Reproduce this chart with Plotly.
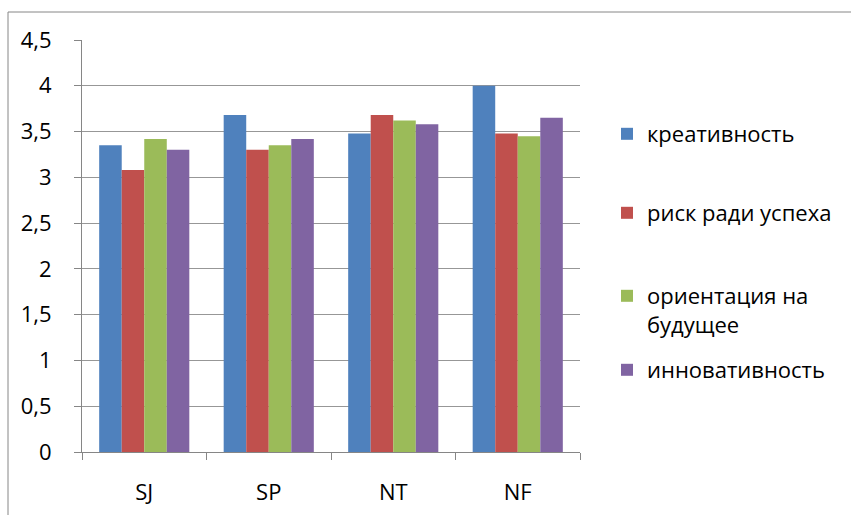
import plotly.graph_objects as go

categories = ["SJ", "SP", "NT", "NF"]
series_names = ["креативность", "риск ради успеха", "ориентация на<br>будущее", "инновативность"]
creativity = [3.35, 3.68, 3.48, 4.0]
risk = [3.08, 3.30, 3.68, 3.48]
future = [3.42, 3.35, 3.62, 3.45]
innovation = [3.30, 3.42, 3.58, 3.65]
y_ticks = [0, 0.5, 1, 1.5, 2, 2.5, 3, 3.5, 4, 4.5]

colors = ["#4F81BD", "#C0504D", "#9BBB59", "#8064A2"]
values = [creativity, risk, future, innovation]

W, H = 851, 515
# plot area in reference page pixels
PX0, PX1, PY0, PY1 = 82, 580, 40, 452
L, R, T, B = PX0, W - PX1, PY0, H - PY1
pw = W - L - R
ph = H - T - B

def px_x(p):
    return (p - L) / pw

def px_y(p):
    return (H - B - p) / ph

legend_names = ["legend", "legend2", "legend3", "legend4"]
legend_y = [134, 213, 275, 370]
legend_anchor = ["middle", "middle", "top", "middle"]

font_family = "'Open Sans', sans-serif"
FS = 22

fig = go.Figure()
for i in range(4):
    fig.add_trace(go.Bar(
        x=categories, y=values[i], name=series_names[i],
        marker=dict(color=colors[i], line=dict(width=0)),
        legend=legend_names[i],
    ))

layout_legends = {}
for i, ln in enumerate(legend_names):
    layout_legends[ln] = dict(
        x=px_x(607), y=px_y(legend_y[i]), xanchor="left", yanchor=legend_anchor[i],
        font=dict(family=font_family, size=FS, color="#000000"),
        bgcolor="rgba(0,0,0,0)", valign="top", borderwidth=0,
    )

fig.update_layout(
    width=W, height=H,
    margin=dict(l=L, r=R, t=T, b=B, autoexpand=False),
    paper_bgcolor="white", plot_bgcolor="white",
    barmode="group", bargap=0.276, bargroupgap=0,
    separators=", ",
    font=dict(family=font_family, size=FS, color="#000000"),
    showlegend=True,
    **layout_legends,
)
fig.update_xaxes(
    showline=True, linecolor="#868686", linewidth=1,
    ticks="outside", tickson="boundaries", ticklen=7, tickcolor="#868686",
    ticklabelstandoff=21, showgrid=False, automargin=False,
    tickfont=dict(family=font_family, size=FS, color="#000000"),
)
fig.update_yaxes(
    range=[0, 4.5], tickvals=y_ticks, ticks="outside", ticklen=7, tickcolor="#868686",
    showline=True, linecolor="#868686", linewidth=1,
    showgrid=True, gridcolor="#979797", gridwidth=1, zeroline=False,
    ticklabelstandoff=18, automargin=False,
    tickfont=dict(family=font_family, size=FS, color="#000000"),
)
# outer chart border (top and left edges visible in the reference)
fig.add_shape(type="line", xref="paper", yref="paper",
              x0=px_x(8), x1=px_x(851), y0=px_y(12), y1=px_y(12),
              line=dict(color="#868686", width=1))
fig.add_shape(type="line", xref="paper", yref="paper",
              x0=px_x(8), x1=px_x(8), y0=px_y(12), y1=px_y(515),
              line=dict(color="#868686", width=1))

fig.write_html(
    "out.html",
    config={"displayModeBar": False},
    post_script=[
        "document.body.style.margin='0';"
        "document.body.style.overflow='hidden';"
        "document.documentElement.style.overflow='hidden';"
    ],
)
